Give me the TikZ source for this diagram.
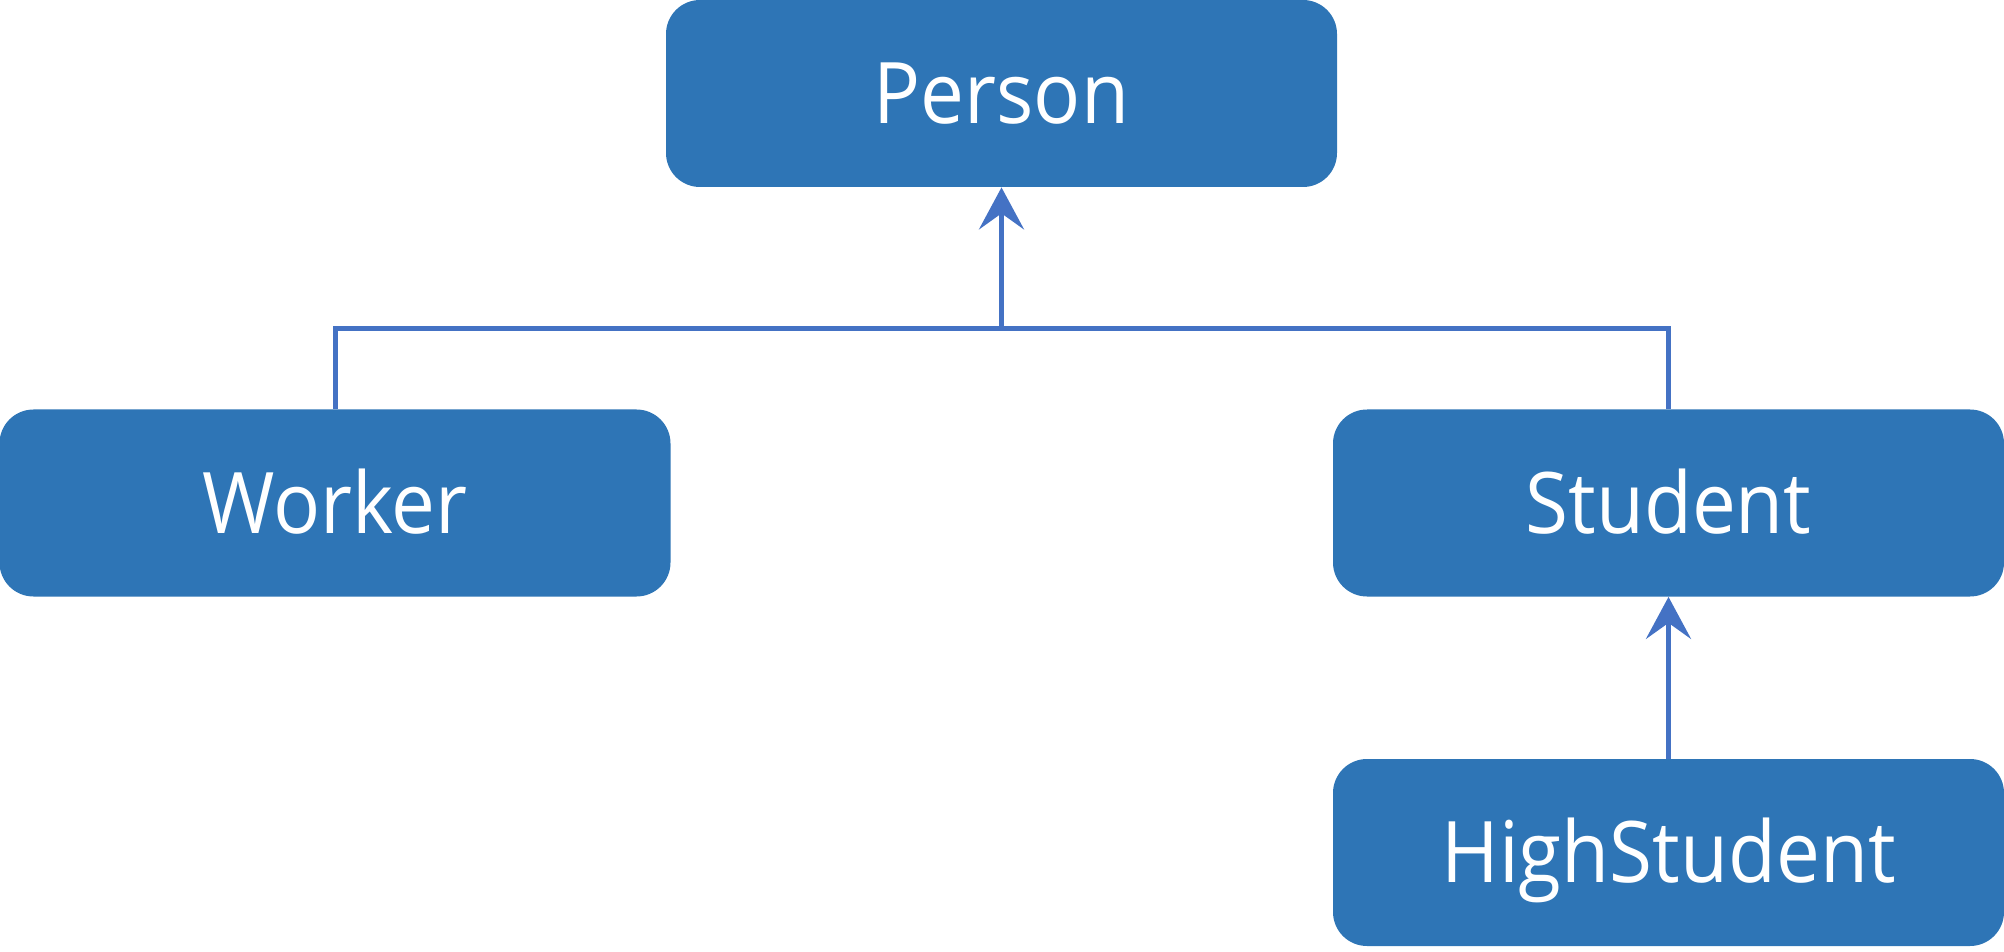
\documentclass[tikz,border=0pt]{standalone}
\usepackage{fontspec}
\setmainfont{Open Sans}[FakeStretch=0.92]
\usetikzlibrary{arrows.meta}
\definecolor{boxblue}{HTML}{2E75B6}
\definecolor{lineblue}{HTML}{4472C4}
\tikzset{
  classbox/.style={draw=none, fill=boxblue, rounded corners=17pt, text=white,
    minimum width=335.5pt, minimum height=93.5pt, inner sep=0pt,
    font=\fontsize{42.5}{50}\selectfont, text height=30.4pt, text depth=0pt},
  link/.style={draw=lineblue, line width=2.5pt},
  inherit/.style={link, -{Stealth[length=21pt, width=22.5pt, inset=8pt]}}
}
\begin{document}
\begin{tikzpicture}[x=0.5pt, y=-0.5pt]
\useasboundingbox (0,0) rectangle (2004,952);
\node[classbox] (person) at (1001.5,93.5) {Person};
\node[classbox] (worker) at (335,503) {Worker};
\node[classbox] (student) at (1668.5,503) {Student};
\node[classbox] (high) at (1668.5,852.5) {HighStudent};
\coordinate (junction) at (1001.5,329);
\draw[link] (worker.north) |- (junction) -| (student.north);
\draw[inherit] (junction) -- (person.south);
\draw[inherit] (high.north) -- (student.south);
\end{tikzpicture}
\end{document}
